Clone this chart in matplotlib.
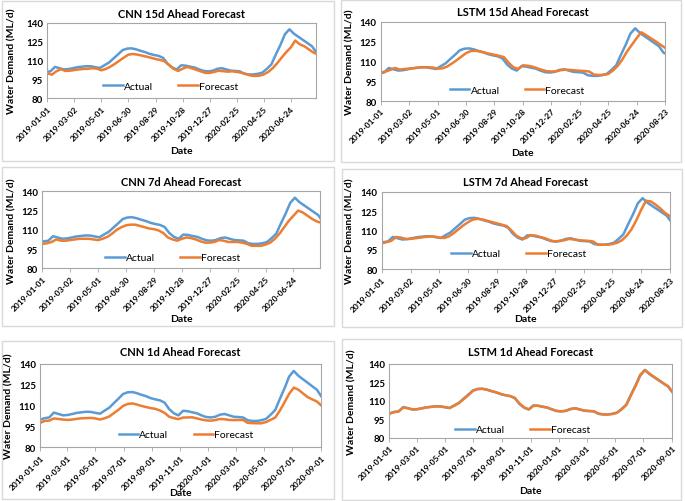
import pandas as pd
import matplotlib
matplotlib.use('Agg')
import matplotlib.pyplot as plt
from matplotlib.patches import Rectangle

plt.rcParams['font.family'] = ['Lato', 'DejaVu Sans']

# observed water demand (ML/d), one reading every 10 days from 2019-01-01
actual = [99.8, 101, 101.5, 105, 104, 103, 103.3, 104, 104.8, 105.2,
          105.6, 105.5, 104.8, 104.2, 106.4, 108.5, 111.8, 115, 118.4, 119.6,
          119.8, 119, 117.8, 116.8, 115.4, 114.5, 113.8, 112.2, 107.5, 104.5,
          103, 106.3, 106, 105.2, 104.5, 103, 101.8, 101.5, 102, 103.5,
          104, 103, 102, 101.8, 101.5, 99.5, 99, 99, 99.5, 100.5,
          103.5, 107, 115, 122.5, 131, 135, 131.5, 129, 126.5, 124,
          121.5, 116.5, 115]

# model forecasts, same 10-day spacing, from 2019-01-01
cnn_15d = [100, 98.8, 101.5, 103.2, 101.8, 102, 102.5, 103, 103.4, 103.5,
           104, 103.6, 102.3, 103.4, 105.2, 107.5, 110, 112.5, 114.8, 115.3,
           114.8, 114, 113.2, 112.3, 111.3, 110.6, 109.5, 106.5, 103.5, 101.8,
           103.5, 105, 104, 102.8, 101.5, 100.3, 100.2, 101, 102, 101.6,
           101.2, 101.5, 101, 100.4, 99.5, 98.2, 97.8, 98, 99, 101,
           104, 108, 112.5, 116.8, 120.5, 126, 123, 121.5, 119, 116.5, 115]
lstm_15d = [101.7, 102.2, 103.5, 105, 103.8, 104.2, 104.5, 104.8, 105.3, 105.5,
            105.5, 105.3, 104.5, 104.7, 106, 108.3, 110.8, 113.5, 116.2, 117.8,
            118, 117.5, 116.5, 115.7, 115, 114.2, 113.2, 109, 105.5, 104.3,
            107, 106.7, 106, 104.8, 103.6, 102.6, 102.3, 102.5, 103.3, 103.7,
            103.5, 103.2, 102.9, 102.7, 102.3, 100, 99.7, 99.8, 100.4, 103,
            106.5, 111.5, 117.5, 122.5, 127.5, 132, 129.8, 127.5, 125.2, 122.7, 120.3]
cnn_7d = [99, 99.5, 100.5, 102.5, 101.5, 101.5, 102, 102.5, 103, 103,
          103, 102.5, 102, 103, 104.5, 107, 110, 112, 113.5, 114,
          114, 113, 112, 111, 110.5, 109.5, 107.5, 104, 102.5, 101.5,
          103, 104, 103.5, 102.5, 101, 100, 100, 100.5, 102, 101.5,
          100.5, 100.5, 100.5, 100, 99, 97.5, 97.5, 97.5, 98.5, 100,
          103, 107, 112, 117, 121, 125, 123.5, 121, 118.5, 116.5, 115.5]
lstm_7d = [100, 101, 102, 105, 104.5, 103.5, 103.5, 104, 104.5, 105,
           105.3, 105.3, 104.5, 104.2, 105.5, 108, 111, 114, 116.5, 118.5,
           119, 118.5, 117.5, 116.5, 115.5, 114.5, 113.5, 110, 106, 104,
           104, 106.5, 106, 105, 104, 102.5, 101.5, 102, 102.5, 103.5,
           103, 102.5, 102.2, 102, 101.5, 99, 99, 99, 99.5, 100.5,
           102.5, 106, 111, 118, 126, 133, 132.5, 130, 127, 123.5, 121]
cnn_1d = [97.5, 99, 99.2, 100.8, 100.4, 100, 99.7, 100, 100.5, 100.9,
          101, 101.2, 100.8, 100, 100.9, 102.2, 104.6, 107, 109.8, 111.2,
          111.6, 110.8, 109.8, 109, 108.2, 107.7, 106.5, 104.8, 102, 101,
          100.3, 101.4, 101.5, 101.6, 100.8, 100, 99.4, 99.2, 99.6, 100.4,
          100.2, 99.7, 99.6, 99.7, 99.7, 97.6, 97.4, 97.3, 97.3, 98.2,
          99.8, 101.5, 106.5, 112.5, 118.5, 123, 121.5, 118.8, 116.2, 114.5,
          113, 110]
lstm_1d = [99.6, 100.8, 101.4, 104.6, 104.1, 103.1, 103.2, 103.9, 104.7, 105.1,
           105.5, 105.5, 104.9, 104.3, 106.1, 108.2, 111.4, 114.6, 118.1, 119.5,
           119.7, 119.1, 117.9, 116.9, 115.6, 114.6, 113.9, 112.5, 108, 104.8,
           103.1, 105.9, 106.1, 105.3, 104.6, 103.2, 101.9, 101.5, 101.9, 103.3,
           104, 103.1, 102.1, 101.8, 101.6, 99.8, 99.1, 99, 99.4, 100.4,
           103.1, 106.6, 114.4, 122, 130.4, 134.8, 132, 129.3, 126.8, 124.2,
           121.8, 117]

# how many days the observed series sits earlier in each horizon's chart
lead_days = {'15d': 13, '7d': 7, '1d': 0}
yticks = [80, 95, 110, 125, 140]

W, H = 685, 502
BLUE = '#5B9BD5'
ORANGE = '#ED7D31'
fig = plt.figure(figsize=(W / 100, H / 100), dpi=100)
start = pd.Timestamp('2019-01-01')


def fx(x):
    return x / W


def fy(y):
    return 1 - y / H


def panel(box, area, title, title_y, horizon, forecast, end, ticks,
          ylab_x, date_y, leg):
    x0, y0, x1, y1 = box
    fig.patches.append(Rectangle((fx(x0), fy(y1)), (x1 - x0) / W, (y1 - y0) / H,
                                 transform=fig.transFigure, fill=False,
                                 ec='#D9D9D9', lw=1))
    ax = fig.add_axes([fx(area[0]), fy(area[3]),
                       (area[2] - area[0]) / W, (area[3] - area[1]) / H])
    t_act = pd.date_range(start - pd.Timedelta(days=lead_days[horizon]),
                          periods=len(actual), freq='10D')
    t_fc = pd.date_range(start, periods=len(forecast), freq='10D')
    ax.plot(t_act, actual, color=BLUE, lw=1.8, label='Actual')
    ax.plot(t_fc, forecast, color=ORANGE, lw=1.8, label='Forecast')
    ticks = [t for t in ticks if t <= end]
    ax.set_xticks(ticks)
    ax.set_xticklabels([t.strftime('%Y-%m-%d') for t in ticks], rotation=45,
                       ha='right', rotation_mode='anchor', fontsize=6,
                       fontweight='bold')
    ax.set_xlim(start, end)
    ax.set_ylim(80, 140)
    ax.set_yticks(yticks)
    ax.set_yticklabels([str(v) for v in yticks], fontsize=7, fontweight='bold')
    ax.tick_params(axis='y', length=0, pad=3)
    ax.tick_params(axis='x', length=3, width=0.6, color='#A6A6A6', pad=1.5)
    for s in ax.spines.values():
        s.set_color('#A6A6A6')
        s.set_linewidth(0.8)
    ax.legend(loc='center', bbox_to_anchor=leg, ncol=2, frameon=False,
              fontsize=7.5, handlelength=1.9, handletextpad=0.1,
              columnspacing=2.4, borderpad=0)
    cx = (area[0] + area[2]) / 2
    fig.text(fx(cx), fy(title_y), title, ha='center', va='center',
             fontsize=8, fontweight='bold')
    fig.text(fx(ylab_x), fy((area[1] + area[3]) / 2), 'Water Demand (ML/d)',
             rotation=90, ha='center', va='center', fontsize=7.5,
             fontweight='bold')
    fig.text(fx(cx), fy(date_y), 'Date', ha='center', va='center',
             fontsize=7.5, fontweight='bold')


ticks_60 = list(pd.date_range(start, periods=11, freq='60D'))
ticks_2m = list(pd.date_range(start, '2020-09-01', freq='2MS'))
day = lambda n: start + pd.Timedelta(days=n)

panel((2, 2, 334, 162), (47.3, 24, 316, 99.3), 'CNN 15d Ahead Forecast', 14,
      '15d', cnn_15d, day(596), ticks_60, 11.7, 152, (0.46, 0.165))
panel((341, 1, 681, 163), (380.7, 22.7, 665, 102), 'LSTM 15d Ahead Forecast', 13,
      '15d', lstm_15d, day(600), ticks_60, 350, 154, (0.48, 0.14))
panel((2, 168, 334, 327), (42.3, 192.3, 320, 269.3), 'CNN 7d Ahead Forecast', 182,
      '7d', cnn_7d, day(597), ticks_60, 11.7, 320, (0.47, 0.14))
panel((342, 170, 682, 328), (381.7, 192.7, 670, 270.3), 'LSTM 7d Ahead Forecast', 183,
      '7d', lstm_7d, day(600), ticks_60, 350, 320, (0.475, 0.2))
panel((2, 342, 334, 500), (40, 365, 321, 448.3), 'CNN 1d Ahead Forecast', 353,
      '1d', cnn_1d, pd.Timestamp('2020-09-01'), ticks_2m, 9, 494, (0.52, 0.15))
panel((342, 340, 681, 501), (389.3, 364.7, 672.3, 439), 'LSTM 1d Ahead Forecast', 352,
      '1d', lstm_1d, pd.Timestamp('2020-09-01'), ticks_2m, 352, 492, (0.47, 0.11))

fig.savefig('out.png', dpi=100)
